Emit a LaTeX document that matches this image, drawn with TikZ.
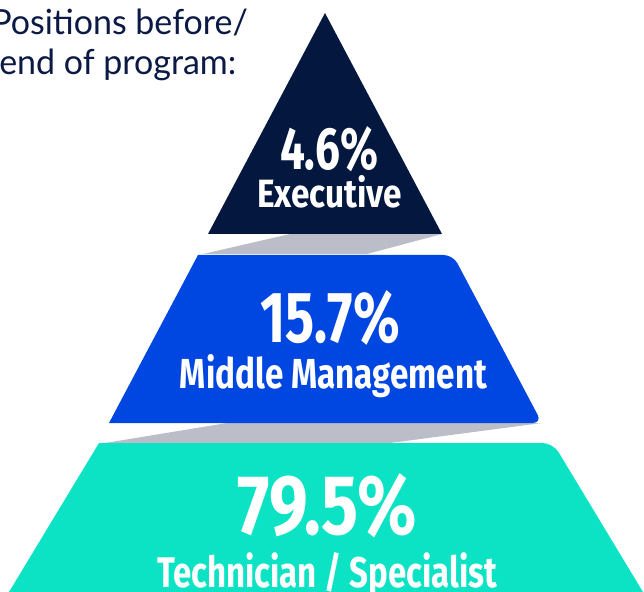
\documentclass[tikz,border=0pt]{standalone}
\usepackage{fontspec}
\newfontfamily\condfont{Fira Sans}
\newfontfamily\headfont[FakeStretch=0.98]{Lato}
\definecolor{navy}{HTML}{03173F}
\definecolor{midblue}{HTML}{0047E1}
\definecolor{teal}{HTML}{0CE3C5}
\definecolor{foldgray}{HTML}{BBBDC8}
\definecolor{headtext}{HTML}{0B1A45}
% #1 width (px), #2 height (px), #3 text
\newcommand\fitlabel[3]{\resizebox{#1\dimexpr0.75pt\relax}{#2\dimexpr0.75pt\relax}{\condfont\bfseries\fontsize{40pt}{44pt}\selectfont #3}}
\tikzset{
  fold/.style={fill=foldgray},
  lbl/.style={text=white, anchor=base, inner sep=0pt},
  head/.style={text=headtext, anchor=base west, inner sep=0pt, font=\headfont\fontsize{26pt}{30pt}\selectfont}
}
\begin{document}
\begin{tikzpicture}[x=0.75pt,y=-0.75pt]
\useasboundingbox (0,0) rectangle (644,592);
% folds
\fill[fold] (290,234) -- (442,234) -- (367,254) -- (203,254) -- cycle;
\fill[fold] (227,423) -- (542,423) -- (390,443) -- (105,443) -- cycle;
% tiers
\fill[navy] (325,13) -- (442,234) -- (208,234) -- cycle;
\fill[midblue] (109,423) -- (198,255) [rounded corners=7pt] -- (453,255) -- (542,423) [sharp corners] -- cycle;
\fill[teal] (-20,640) -- (99,443) [rounded corners=8pt] -- (553,443) -- (672,640) [sharp corners] -- cycle;
% labels
\node[lbl] (p1) at (329,170) {\fitlabel{98}{43}{4.6\%}};
\node[lbl] (t1) at (329.5,208) {\fitlabel{145}{32}{Executive}};
\node[lbl] (p2) at (330,343) {\fitlabel{140}{52}{15.7\%}};
\node[lbl] (t2) at (333.5,388) {\fitlabel{307}{34}{Middle Management}};
\node[lbl] (p3) at (327.5,535) {\fitlabel{179}{61}{79.5\%}};
\node[lbl] (t3) at (327,587) {\fitlabel{340}{35}{Technician / Specialist}};
% heading
\node[head] (h1) at (-9,35) {Positions before/};
\node[head] (h2) at (-1,75) {end of program:};
\end{tikzpicture}
\end{document}
